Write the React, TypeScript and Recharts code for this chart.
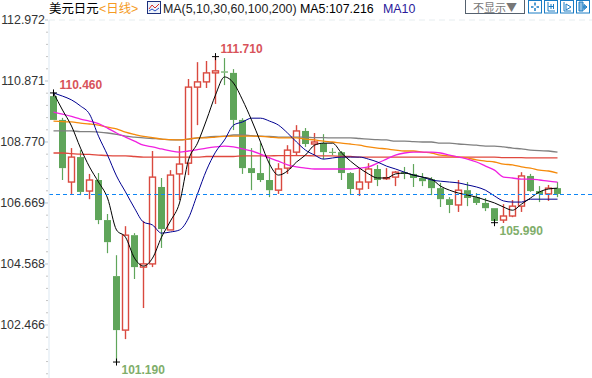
import React from "react";
import { ComposedChart, Bar, Line, XAxis, YAxis, ReferenceLine, ReferenceDot } from "recharts";

const opens = [110.35, 109.53, 107.39, 108.25, 107.08, 107.46, 106.08, 104.15, 102.29, 105.56, 104.46, 104.57, 107.22, 105.74, 107.67, 108.04, 110.66, 110.84, 111.15, 111.2, 111.15, 109.53, 107.87, 107.7, 107.46, 107.11, 107.87, 108.42, 109.15, 108.7, 108.73, 108.43, 108.42, 107.7, 107.15, 107.39, 107.84, 107.51, 107.56, 107.73, 107.67, 107.53, 107.49, 107.18, 106.8, 106.6, 107.11, 106.87, 106.67, 106.49, 106.08, 106.22, 106.56, 107.6, 107.08, 106.98, 107.18];
const highs = [110.46, 109.6, 108.56, 108.49, 107.67, 107.7, 106.29, 104.87, 105.87, 105.63, 106.05, 108.46, 107.53, 107.8, 108.63, 110.94, 111.52, 111.56, 111.71, 111.66, 111.28, 109.59, 108.56, 108.73, 108.25, 108.04, 108.66, 109.35, 109.25, 109.08, 109.04, 108.56, 108.46, 107.73, 107.84, 108.04, 107.98, 107.87, 107.77, 107.91, 108.01, 107.7, 107.56, 107.36, 106.87, 107.46, 107.39, 107.01, 106.84, 106.49, 106.63, 106.77, 107.73, 107.67, 107.25, 107.29, 107.39];
const lows = [109.53, 107.46, 106.98, 106.94, 106.8, 105.94, 104.94, 101.19, 101.98, 104.05, 103.05, 104.46, 105.12, 105.74, 106.77, 107.63, 109.35, 110.63, 110.08, 110.73, 109.18, 107.67, 107.11, 107.39, 106.87, 106.98, 107.67, 108.29, 108.6, 108.32, 108.18, 108.32, 107.46, 106.98, 106.91, 107.15, 107.25, 107.46, 107.25, 107.49, 107.22, 107.25, 106.94, 106.53, 106.32, 106.36, 106.56, 106.6, 106.39, 105.99, 105.98, 106.18, 106.36, 107.05, 106.7, 106.74, 106.87];
const closes = [109.53, 107.87, 108.25, 107.05, 107.46, 106.08, 105.32, 102.29, 105.56, 104.46, 104.57, 107.56, 105.77, 107.63, 108.01, 110.66, 110.84, 111.15, 111.22, 111.16, 109.53, 107.87, 107.7, 107.46, 107.11, 107.84, 108.49, 109.15, 108.7, 108.77, 108.42, 108.41, 107.7, 107.15, 107.39, 107.84, 107.46, 107.54, 107.73, 107.67, 107.53, 107.42, 107.18, 106.8, 106.6, 107.11, 106.84, 106.67, 106.49, 106.05, 106.22, 106.56, 107.6, 107.08, 106.98, 107.18, 106.98];

const ma5 = [110.46, 109.87, 109.32, 108.56, 107.91, 107.39, 106.84, 105.74, 105.49, 104.77, 104.5, 104.77, 105.49, 106.05, 106.67, 108.15, 108.73, 109.53, 110.39, 111.01, 110.8, 110.22, 109.53, 108.77, 108.01, 107.63, 107.77, 108.08, 108.32, 108.66, 108.73, 108.73, 108.39, 108.11, 107.87, 107.67, 107.53, 107.53, 107.67, 107.7, 107.63, 107.56, 107.49, 107.25, 107.11, 107.01, 106.94, 106.87, 106.77, 106.67, 106.53, 106.42, 106.63, 106.84, 107.05, 107.15, 107.18];
const ma10 = [110.46, 110.35, 110.22, 110.01, 109.73, 108.97, 108.32, 107.6, 107.05, 106.49, 106.01, 105.91, 105.63, 105.67, 105.74, 106.15, 106.98, 107.8, 108.42, 108.84, 109.35, 109.46, 109.59, 109.59, 109.49, 109.35, 109.08, 108.77, 108.49, 108.32, 108.18, 108.22, 108.25, 108.25, 108.25, 108.18, 108.08, 107.94, 107.84, 107.73, 107.63, 107.56, 107.46, 107.42, 107.39, 107.36, 107.29, 107.22, 107.11, 106.91, 106.74, 106.7, 106.7, 106.8, 106.8, 106.8, 106.8];
const ma30 = [109.8, 109.73, 109.65, 109.56, 109.49, 109.4, 109.25, 109.08, 108.94, 108.8, 108.66, 108.6, 108.53, 108.46, 108.42, 108.46, 108.51, 108.56, 108.6, 108.63, 108.6, 108.53, 108.46, 108.35, 108.22, 108.11, 107.98, 107.91, 107.87, 107.84, 107.84, 107.84, 107.84, 107.84, 107.87, 107.91, 108.04, 108.18, 108.32, 108.39, 108.42, 108.42, 108.42, 108.39, 108.32, 108.25, 108.18, 108.08, 107.94, 107.8, 107.56, 107.53, 107.49, 107.49, 107.46, 107.42, 107.39];
const ma60 = [109.49, 109.47, 109.46, 109.42, 109.39, 109.35, 109.28, 109.22, 109.11, 109.03, 108.96, 108.92, 108.87, 108.85, 108.84, 108.87, 108.91, 108.91, 108.94, 108.96, 108.97, 108.97, 108.97, 108.96, 108.94, 108.91, 108.91, 108.91, 108.87, 108.84, 108.8, 108.77, 108.73, 108.7, 108.66, 108.6, 108.56, 108.53, 108.49, 108.46, 108.46, 108.42, 108.39, 108.32, 108.29, 108.25, 108.22, 108.15, 108.11, 108.08, 108.01, 107.98, 107.91, 107.87, 107.8, 107.77, 107.7];
const ma100 = [108.39, 108.39, 108.37, 108.35, 108.34, 108.32, 108.3, 108.29, 108.29, 108.27, 108.25, 108.25, 108.25, 108.25, 108.25, 108.25, 108.25, 108.27, 108.27, 108.27, 108.27, 108.29, 108.29, 108.29, 108.29, 108.3, 108.3, 108.3, 108.3, 108.29, 108.29, 108.29, 108.27, 108.27, 108.25, 108.25, 108.25, 108.25, 108.25, 108.25, 108.25, 108.25, 108.25, 108.25, 108.25, 108.25, 108.25, 108.25, 108.25, 108.25, 108.23, 108.23, 108.23, 108.22, 108.22, 108.22, 108.22];
const ma200 = [109.15, 109.15, 109.15, 109.13, 109.13, 109.11, 109.08, 109.03, 108.97, 108.94, 108.91, 108.89, 108.87, 108.84, 108.84, 108.87, 108.91, 108.94, 108.96, 108.97, 109.01, 109.01, 108.99, 108.97, 108.96, 108.94, 108.94, 108.94, 108.94, 108.92, 108.92, 108.91, 108.91, 108.91, 108.89, 108.87, 108.85, 108.84, 108.8, 108.8, 108.78, 108.77, 108.77, 108.73, 108.73, 108.7, 108.68, 108.66, 108.63, 108.63, 108.6, 108.56, 108.53, 108.49, 108.47, 108.46, 108.42];

const majorTicks = [112.972, 110.871, 108.77, 106.669, 104.568, 102.466];
const allTicks = [112.972, 112.552, 112.132, 111.711, 111.291, 110.871, 110.451, 110.031, 109.61, 109.19, 108.77, 108.35, 107.93, 107.509, 107.089, 106.669, 106.249, 105.829, 105.408, 104.988, 104.568, 104.148, 103.727, 103.307, 102.887, 102.466, 102.046, 101.626, 101.206, 100.786];
const lastPrice = 106.97;

const extremeIndex = [0, 18, 7, 49];
const extremePrice = [110.46, 111.71, 101.19, 105.99];
const extremeLabel = ["110.460", "111.710", "101.190", "105.990"];

const RED = "#d9493f";
const GREEN = "#5fa55a";
const PADDING_ROWS = 4;

const rows = opens.map((open, i) => ({
  i,
  open,
  high: highs[i],
  low: lows[i],
  close: closes[i],
  range: [lows[i], highs[i]],
  ma5: ma5[i],
  ma10: ma10[i],
  ma30: ma30[i],
  ma60: ma60[i],
  ma100: ma100[i],
  ma200: ma200[i],
}));
const table: any[] = [...rows];
for (let k = 0; k < PADDING_ROWS; k++) table.push({ i: rows.length + k });

function Candle(props: any) {
  const { x, y, width, height, payload } = props;
  if (!payload || payload.high === undefined) return null;
  const k = height / (payload.high - payload.low);
  const top = y + (payload.high - Math.max(payload.open, payload.close)) * k;
  const bottom = y + (payload.high - Math.min(payload.open, payload.close)) * k;
  const mid = x + width / 2;
  const up = payload.close >= payload.open;
  const color = up ? RED : GREEN;
  const bodyH = Math.max(bottom - top, 1);
  return (
    <g>
      <line x1={mid} x2={mid} y1={y} y2={top} stroke={color} strokeWidth={up ? 1.4 : 1.2} />
      <line x1={mid} x2={mid} y1={top + bodyH} y2={y + height} stroke={color} strokeWidth={up ? 1.4 : 1.2} />
      {up ? (
        <rect x={x + 0.5} y={top} width={width - 1} height={bodyH} fill="#fff" stroke={color} strokeWidth={1.4} />
      ) : (
        <rect x={x} y={top} width={width} height={bodyH} fill={color} />
      )}
    </g>
  );
}

function PriceTick(props: any) {
  const { x, y, payload } = props;
  const major = majorTicks.includes(payload.value);
  return (
    <g>
      <line x1={x - (major ? 4 : 3)} x2={x - 1} y1={y} y2={y} stroke={major ? "#b8c4ce" : "#c4c4c4"} />
      {major && (
        <text x={x - 4} y={y} textAnchor="end" dominantBaseline="central" fontSize={12.4} fill="#333" fontFamily="Liberation Sans">
          {payload.value.toFixed(3)}
        </text>
      )}
    </g>
  );
}

function Extreme(props: any, n: number) {
  const { cx, cy } = props;
  const below = n >= 2;
  return (
    <g>
      <line x1={cx - 3.5} x2={cx + 3.5} y1={cy} y2={cy} stroke="#000" />
      <line x1={cx} x2={cx} y1={cy - 3.5} y2={cy + 3.5} stroke="#000" />
      <text
        x={cx + (n === 0 ? 6 : 5)}
        y={cy + (below ? 8 : -7.5)}
        dominantBaseline="central"
        fontSize={12}
        fontWeight="bold"
        fontFamily="Liberation Sans"
        fill={below ? "#7fae6a" : "#d8535a"}
      >
        {extremeLabel[n]}
      </text>
    </g>
  );
}

const headerText: React.CSSProperties = {
  position: "absolute",
  top: 1,
  fontSize: 12.4,
  lineHeight: "16px",
  whiteSpace: "nowrap",
  fontFamily: "Liberation Sans, Noto Sans CJK SC",
};

function ToolButton({ left, kind }: { left: number; kind: number }) {
  const c = "#1a7cc4";
  return (
    <svg width={14} height={14} style={{ position: "absolute", left, top: 0 }}>
      <rect x={0.5} y={0.5} width={13} height={12.5} fill="#fff" stroke={c} />
      {kind === 0 && <path d="M7 2.5v3M7 8v3M3 7h2.5M8.5 7H11" stroke={c} strokeWidth={1.5} />}
      {kind === 1 && <path d="M4 2v9h7M7 4v5M9.5 4v5M4.5 6.5h5" stroke={c} fill="none" />}
      {kind === 2 && <path d="M4 2v9h7M6 4l5 3-5 3z" stroke={c} fill="none" />}
      {kind === 3 && <path d="M3 2v9h4V2zM7 7h3M8 4.5l3 2.5-3 2.5z" stroke={c} fill={c} fillOpacity={0.5} />}
    </svg>
  );
}

export default function App() {
  return (
    <div style={{ position: "absolute", left: 0, top: 0, width: 592, height: 378, overflow: "hidden", background: "#fff" }}>
      <ComposedChart
        width={598}
        height={378}
        data={table}
        margin={{ top: 20, right: 0, bottom: 0, left: 0 }}
      >
        <XAxis dataKey="i" hide type="category" />
        <YAxis
          width={49}
          domain={[100.64, 112.972]}
          allowDataOverflow
          ticks={allTicks}
          interval={0}
          tick={<PriceTick />}
          tickLine={false}
          tickSize={0}
          tickMargin={0}
          axisLine={{ stroke: "#dbe7f1" }}
        />
        <ReferenceLine y={112.972} stroke="#e6edf0" strokeDasharray="6 4" />
        <Bar dataKey="range" barSize={7} shape={<Candle />} isAnimationActive={false} />
        <Line dataKey="ma200" stroke="#808080" strokeWidth={1.3} dot={false} type="monotone" isAnimationActive={false} />
        <Line dataKey="ma100" stroke="#e0483e" strokeWidth={1.3} dot={false} type="monotone" isAnimationActive={false} />
        <Line dataKey="ma60" stroke="#f58a0b" strokeWidth={1.3} dot={false} type="monotone" isAnimationActive={false} />
        <Line dataKey="ma30" stroke="#f020e0" strokeWidth={1.3} dot={false} type="monotone" isAnimationActive={false} />
        <Line dataKey="ma10" stroke="#000090" strokeWidth={1} dot={false} type="monotone" isAnimationActive={false} />
        <Line dataKey="ma5" stroke="#000" strokeWidth={1} dot={false} type="monotone" isAnimationActive={false} />
        <ReferenceLine y={lastPrice} stroke="#0f86f5" strokeWidth={1} strokeDasharray="4 3" shapeRendering="crispEdges" />
        {extremeIndex.map((ix, n) => (
          <ReferenceDot key={n} x={ix} y={extremePrice[n]} shape={(p: any) => Extreme(p, n)} />
        ))}
      </ComposedChart>

      <span style={{ ...headerText, left: 49, color: "#000" }}>美元日元</span>
      <span style={{ ...headerText, left: 99, color: "#f59a23" }}>&lt;日线&gt;</span>
      <svg width={14} height={14} style={{ position: "absolute", left: 147, top: 1 }}>
        <rect x={0.5} y={0.5} width={13} height={12} fill="#eef3fb" stroke="#1c2f7c" />
        <path d="M2 8l3-4 3 3 4-4" stroke="#d9302a" fill="none" />
        <path d="M2 10l3-2 3 2 4-3" stroke="#2a50c0" fill="none" />
      </svg>
      <span style={{ ...headerText, left: 163, color: "#222" }}>MA(5,10,30,60,100,200)</span>
      <span style={{ ...headerText, left: 300, color: "#000" }}>MA5:107.216</span>
      <span style={{ ...headerText, left: 383, color: "#2a1a9a" }}>MA10</span>
      <div
        style={{
          position: "absolute",
          left: 465,
          top: 0,
          width: 58,
          height: 13,
          borderLeft: "1.5px solid #55616e",
          borderRight: "1.5px solid #55616e",
          borderBottom: "1.5px solid #55616e",
          background: "#fff",
          fontSize: 11,
          lineHeight: "14px",
          color: "#777",
          textAlign: "center",
          fontFamily: "Noto Sans CJK SC",
        }}
      >
        不显示▼
      </div>
      {[528, 544, 560, 576].map((left, k) => (
        <ToolButton key={k} left={left} kind={k} />
      ))}
    </div>
  );
}
